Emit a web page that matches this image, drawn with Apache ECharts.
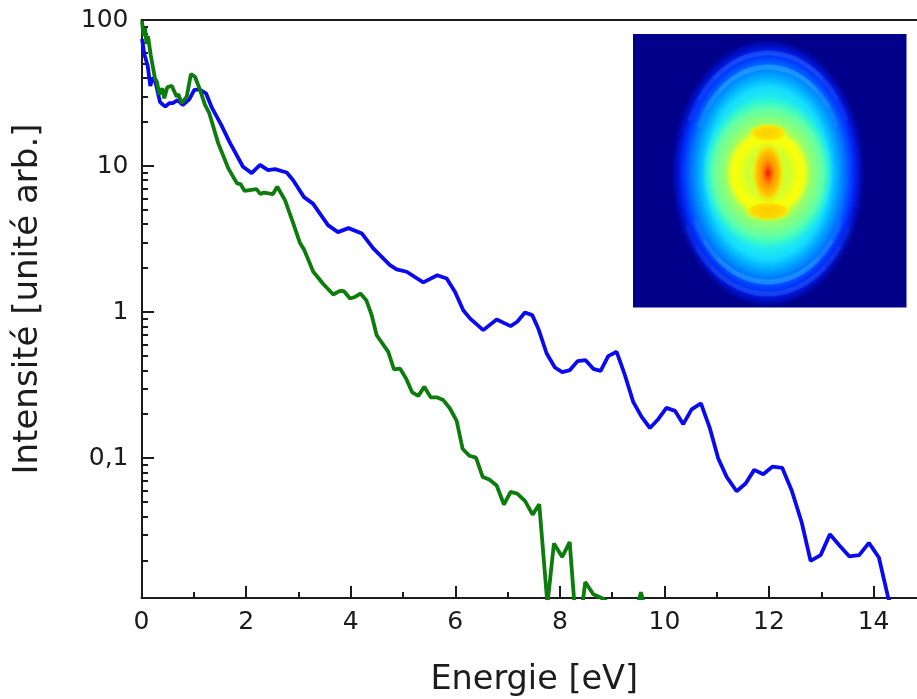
<!DOCTYPE html>
<html><head><meta charset="utf-8">
<style>html,body{margin:0;padding:0;background:#fff}#c{width:917px;height:699px}</style>
<script src="https://cdn.jsdelivr.net/npm/echarts@6/dist/echarts.min.js"></script></head>
<body><div id="c"></div>
<script>
const blueE=[0.01,0.054,0.119,0.168,0.214,0.258,0.354,0.455,0.532,0.597,0.692,0.788,0.914,1.01,1.105,1.233,1.348,1.52,1.692,1.941,2.107,2.266,2.419,2.553,2.776,2.897,3.107,3.279,3.566,3.757,3.958,4.216,4.432,4.751,4.88,5.071,5.388,5.656,5.836,5.994,6.153,6.281,6.535,6.792,7.059,7.185,7.333,7.472,7.587,7.748,7.906,8.046,8.193,8.34,8.493,8.639,8.78,8.925,9.086,9.245,9.403,9.564,9.723,9.881,10.038,10.201,10.36,10.52,10.698,10.87,11.029,11.19,11.38,11.553,11.717,11.889,12.069,12.252,12.432,12.623,12.795,12.987,13.164,13.356,13.533,13.725,13.91,14.101,14.279,14.33];
const blueI=[74.1,58.5,48.4,35.3,40.3,38.8,27.4,25.5,27.0,27.0,28.3,26.2,28.6,33.2,33.5,31.5,25.0,19.3,14.4,9.89,8.95,10.2,9.39,9.54,9.03,8.02,6.13,5.53,3.94,3.53,3.76,3.45,2.73,2.10,1.96,1.89,1.60,1.79,1.70,1.38,1.03,0.906,0.753,0.891,0.802,0.859,0.995,0.954,0.773,0.521,0.418,0.388,0.401,0.462,0.469,0.409,0.396,0.500,0.535,0.370,0.243,0.192,0.161,0.185,0.221,0.211,0.171,0.216,0.237,0.160,0.0995,0.0745,0.0594,0.0671,0.0832,0.0777,0.0877,0.0859,0.0604,0.0366,0.0198,0.0217,0.0301,0.0251,0.0213,0.0217,0.0263,0.0209,0.0111,0.01];
const greenE=[0.01,0.038,0.067,0.096,0.124,0.176,0.21,0.258,0.296,0.34,0.398,0.436,0.493,0.577,0.673,0.704,0.769,0.864,0.946,1.023,1.119,1.214,1.296,1.468,1.66,1.826,1.893,1.969,2.199,2.275,2.342,2.514,2.597,2.744,2.902,3.031,3.107,3.285,3.476,3.667,3.795,3.872,3.987,4.082,4.187,4.302,4.402,4.497,4.719,4.828,4.943,5.057,5.178,5.293,5.407,5.53,5.644,5.771,5.899,6.027,6.141,6.268,6.396,6.524,6.65,6.792,6.931,7.059,7.185,7.333,7.48,7.606,7.763,7.887,8.046,8.188,8.279,8.432,8.486,8.639,8.83,8.958,9.493,9.551,9.608];
const greenI=[98.4,77.7,88.1,68.5,77.7,57.6,56.7,39.9,37.6,31.0,34.0,29.1,34.6,35.5,29.8,31.1,27.0,29.8,42.7,40.9,33.2,26.2,23.0,14.3,9.64,7.61,7.53,6.77,6.96,6.43,6.58,6.43,7.21,5.85,4.05,2.97,2.69,1.89,1.56,1.32,1.40,1.39,1.24,1.27,1.34,1.20,0.954,0.695,0.535,0.405,0.411,0.353,0.282,0.267,0.308,0.261,0.261,0.250,0.219,0.180,0.116,0.104,0.101,0.0745,0.0715,0.065,0.0482,0.0588,0.0573,0.051,0.0411,0.0484,0.01,0.0261,0.0211,0.0267,0.01,0.01,0.0142,0.0117,0.0109,0.01,0.01,0.0121,0.01];
const xMajor=[0,2,4,6,8,10,12,14];
const xMinor=[1,3,5,7,9,11,13];
const yMajor=[0.1,1,10,100];
const yMinor=[0.02,0.03,0.04,0.05,0.06,0.07,0.08,0.09,0.2,0.3,0.4,0.5,0.6,0.7,0.8,0.9,2,3,4,5,6,7,8,9,20,30,40,50,60,70,80,90];
const xTitle='Energie [eV]', yTitle='Intensité [unité arb.]';
const F='"DejaVu Sans"', INK='#1c1c1c';
const chart=echarts.init(document.getElementById('c'),null,{renderer:'canvas'});
const RG=(stops)=>new echarts.graphic.RadialGradient(0.5,0.5,0.5,stops.map(s=>({offset:s[0],color:s[1]})));
const cx=768,cy=173;
const disc=(r,sx,sy,stops,dx,dy)=>({type:'circle',x:cx+(dx||0),y:cy+(dy||0),scaleX:sx,scaleY:sy,shape:{cx:0,cy:0,r},style:{fill:RG(stops)},silent:true});
const D2R=Math.PI/180;
const arc=(r,sx,dy,a0,a1,c,w)=>({type:'arc',x:cx,y:cy+dy,scaleX:sx,scaleY:1,shape:{cx:0,cy:0,r,startAngle:a0*D2R,endAngle:a1*D2R},style:{fill:'none',stroke:c,lineWidth:w},silent:true});
const band=(r,sx,dy,a0,a1,rgb)=>[
 arc(r,sx,dy,a0,a1,'rgba('+rgb+',0.14)',6),
 arc(r,sx,dy,a0+12,a1-12,'rgba('+rgb+',0.14)',5),
 arc(r,sx,dy,a0+26,a1-26,'rgba('+rgb+',0.16)',4)
];
const inset=[
 {type:'rect',shape:{x:633,y:34,width:273.5,height:273.5},style:{fill:'#00008a'},silent:true},
 disc(134,0.72,1,[[0,'#38ffc0'],[0.5,'#30f8d8'],[0.64,'#14dcff'],[0.72,'#00a8ff'],[0.8,'#0070ff'],[0.87,'#0038ff'],[0.93,'#0014d8'],[1,'#00008a']]),
 ...band(117,0.74,-3,205,335,'60,130,255'),
 ...band(103,0.74,-3,205,335,'70,200,255'),
 ...band(118,0.76,3,25,155,'50,120,255'),
 ...band(106,0.76,3,25,155,'70,200,255'),
 disc(76,0.86,1,[[0,'#a8ff58'],[0.62,'#a0ff60'],[0.84,'#60ffa8'],[1,'rgba(48,255,192,0)']]),
 disc(47,0.92,1,[[0,'#c8ff38'],[0.5,'#d0ff30'],[0.72,'#f8ff08'],[0.86,'#f0ff18'],[1,'rgba(176,255,80,0)']]),
 disc(20,1,0.48,[[0,'#ffcc00'],[0.7,'#ffe000'],[1,'rgba(255,255,0,0)']],0,-40),
 disc(24,1,0.42,[[0,'#ffc800'],[0.7,'#ffdc00'],[1,'rgba(255,255,0,0)']],0,38),
 disc(32,0.52,1,[[0,'#d80000'],[0.07,'#ff3000'],[0.35,'#ff9000'],[0.7,'#ffc800'],[1,'rgba(255,240,0,0)']])
];
const common={axisLabel:{show:false},splitLine:{show:false},axisLine:{show:false},axisTick:{show:false}};
const tick=(len)=>({show:true,inside:true,length:len,lineStyle:{color:INK,width:2}});
chart.setOption({
 animation:false,
 backgroundColor:'#fff',
 grid:{left:141.5,right:0,top:20,bottom:101,outerBoundsMode:'none'},
 xAxis:[
  {type:'value',position:'bottom',min:0,max:14.83,name:xTitle,nameLocation:'middle',nameGap:65,
   nameTextStyle:{fontFamily:F,fontSize:33.5,color:INK,padding:[0,0,0,10]},
   axisLine:{show:true,lineStyle:{color:INK,width:2}},
   axisTick:Object.assign(tick(12),{customValues:xMajor}),
   axisLabel:{show:true,customValues:xMajor,fontFamily:F,fontSize:25,color:INK,margin:12},
   splitLine:{show:false}},
  Object.assign({},common,{type:'value',position:'bottom',min:0,max:14.83,axisTick:Object.assign(tick(6),{customValues:xMinor})}),
  Object.assign({},common,{type:'value',position:'top',min:0,max:14.83,axisLine:{show:true,lineStyle:{color:INK,width:2}}})
 ],
 yAxis:[
  {type:'log',logBase:10,min:0.01104,max:100,name:yTitle,nameLocation:'middle',nameGap:96,nameRotate:90,
   nameTextStyle:{fontFamily:F,fontSize:34,color:INK,padding:[0,0,0,20]},
   axisLine:{show:true,lineStyle:{color:INK,width:2}},
   axisTick:Object.assign(tick(12.5),{customValues:yMajor}),
   axisLabel:{show:true,customValues:yMajor,fontFamily:F,fontSize:25,color:INK,margin:13,
     formatter:v=>String(+(+v).toPrecision(3)).replace('.',',')},
   splitLine:{show:false}},
  Object.assign({},common,{type:'log',logBase:10,min:0.01104,max:100,position:'left',axisTick:Object.assign(tick(6.5),{customValues:yMinor})})
 ],
 series:[
  {type:'line',name:'bleu',data:blueE.map((e,i)=>[e,blueI[i]]),showSymbol:false,symbol:'none',clip:true,lineStyle:{color:'#0a0af0',width:3.8},z:3},
  {type:'line',name:'vert',data:greenE.map((e,i)=>[e,greenI[i]]),showSymbol:false,symbol:'none',clip:true,lineStyle:{color:'#0c7c0c',width:3.8},z:4}
 ],
 graphic:inset
});
</script></body></html>
